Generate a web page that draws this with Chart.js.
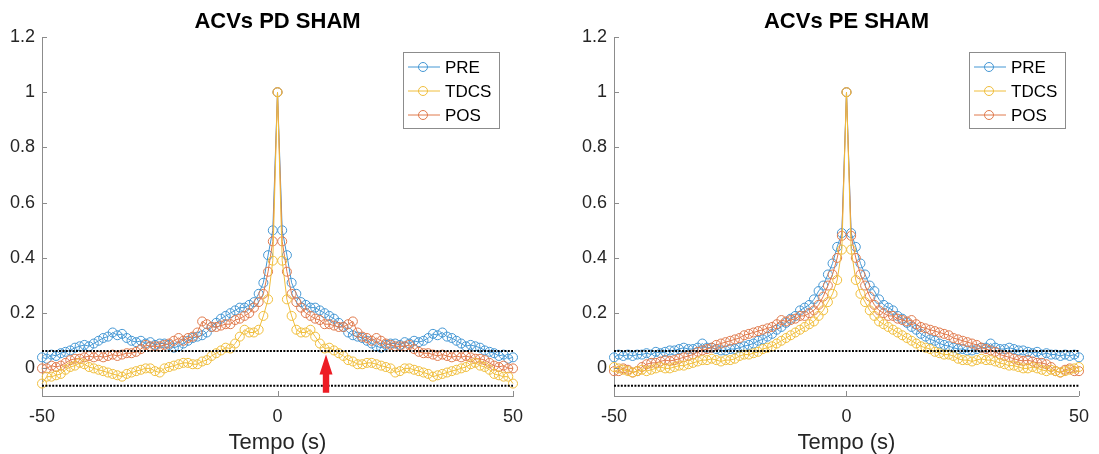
<!DOCTYPE html>
<html>
<head>
<meta charset="utf-8">
<script src="https://cdn.jsdelivr.net/npm/chart.js@4.4.1/dist/chart.umd.min.js"></script>
<style>
  html, body { margin: 0; padding: 0; background: #fff; }
  #wrap { position: relative; width: 1099px; height: 454px; }
  canvas { position: absolute; top: 0; }
</style>
</head>
<body>
<div id="wrap">
  <canvas id="pdChart" width="549" height="454" style="left:0px"></canvas>
  <canvas id="peChart" width="527" height="454" style="left:572px"></canvas>
</div>
<script>
// lag axis (s)
const lags = [
  -50,-49,-48,-47,-46,-45,-44,-43,-42,-41,-40,-39,-38,-37,-36,-35,-34,-33,-32,-31,
  -30,-29,-28,-27,-26,-25,-24,-23,-22,-21,-20,-19,-18,-17,-16,-15,-14,-13,-12,-11,
  -10,-9,-8,-7,-6,-5,-4,-3,-2,-1,0,1,2,3,4,5,6,7,8,9,10,
  11,12,13,14,15,16,17,18,19,20,21,22,23,24,25,26,27,28,29,30,
  31,32,33,34,35,36,37,38,39,40,41,42,43,44,45,46,47,48,49,50
];

// ACVs PD SHAM
const pdPre = [
  0.04,0.035,0.05,0.045,0.055,0.06,0.065,0.075,0.08,0.085,
  0.08,0.09,0.1,0.11,0.115,0.13,0.12,0.125,0.11,0.1,
  0.095,0.1,0.09,0.095,0.085,0.09,0.09,0.085,0.075,0.08,
  0.09,0.1,0.11,0.115,0.12,0.13,0.15,0.165,0.18,0.19,
  0.2,0.21,0.22,0.22,0.23,0.24,0.27,0.31,0.41,0.5,
  1,
  0.5,0.41,0.31,0.27,0.24,0.23,0.22,0.22,0.21,0.2,
  0.19,0.18,0.165,0.15,0.13,0.12,0.115,0.11,0.1,0.09,
  0.08,0.075,0.085,0.09,0.09,0.085,0.095,0.09,0.1,0.095,
  0.1,0.11,0.125,0.12,0.13,0.115,0.11,0.1,0.09,0.08,
  0.085,0.08,0.075,0.065,0.06,0.055,0.045,0.05,0.035,0.04
];
const pdTdcs = [
  -0.055,-0.03,-0.03,-0.025,-0.02,-0.005,0.005,0.01,0.02,0.015,
  0.005,0,-0.005,-0.01,-0.015,-0.02,-0.025,-0.03,-0.02,-0.015,
  -0.01,-0.005,0,0,-0.01,-0.015,0,0.005,0.01,0.015,
  0.02,0.02,0.015,0.015,0.025,0.03,0.045,0.055,0.065,0.075,
  0.072,0.09,0.115,0.14,0.13,0.13,0.14,0.19,0.25,0.39,
  1,
  0.39,0.25,0.19,0.14,0.13,0.13,0.14,0.115,0.09,0.072,
  0.075,0.065,0.055,0.045,0.03,0.025,0.015,0.015,0.02,0.02,
  0.015,0.01,0.005,0,-0.015,-0.01,0,0,-0.005,-0.01,
  -0.015,-0.02,-0.03,-0.025,-0.02,-0.015,-0.01,-0.005,0,0.005,
  0.015,0.02,0.01,0.005,-0.005,-0.02,-0.025,-0.03,-0.03,-0.055
];
const pdPos = [
  0,0,0.01,0.005,0.01,0.02,0.03,0.035,0.035,0.04,
  0.045,0.04,0.045,0.04,0.045,0.05,0.045,0.05,0.055,0.055,
  0.06,0.07,0.085,0.08,0.08,0.08,0.085,0.09,0.1,0.11,
  0.1,0.11,0.115,0.13,0.17,0.16,0.15,0.15,0.155,0.16,
  0.16,0.175,0.18,0.19,0.2,0.22,0.24,0.27,0.35,0.46,
  1,
  0.46,0.35,0.27,0.24,0.22,0.2,0.19,0.18,0.175,0.16,
  0.16,0.155,0.15,0.15,0.16,0.17,0.13,0.115,0.11,0.1,
  0.11,0.1,0.09,0.085,0.08,0.08,0.08,0.085,0.07,0.06,
  0.055,0.055,0.05,0.045,0.05,0.045,0.04,0.045,0.04,0.045,
  0.04,0.035,0.035,0.03,0.02,0.01,0.005,0.01,0,0
];

// ACVs PE SHAM
const pePre = [
  0.04,0.05,0.045,0.05,0.045,0.05,0.05,0.055,0.05,0.06,
  0.055,0.06,0.065,0.065,0.07,0.075,0.07,0.07,0.075,0.09,
  0.075,0.075,0.07,0.065,0.065,0.07,0.07,0.075,0.08,0.085,
  0.09,0.1,0.105,0.115,0.125,0.14,0.15,0.165,0.18,0.19,
  0.21,0.22,0.23,0.25,0.28,0.3,0.34,0.38,0.44,0.49,
  1,
  0.49,0.44,0.38,0.34,0.3,0.28,0.25,0.23,0.22,0.21,
  0.19,0.18,0.165,0.15,0.14,0.125,0.115,0.105,0.1,0.09,
  0.085,0.08,0.075,0.07,0.07,0.065,0.065,0.07,0.075,0.075,
  0.09,0.075,0.07,0.07,0.075,0.07,0.065,0.065,0.06,0.055,
  0.06,0.05,0.055,0.05,0.05,0.045,0.05,0.045,0.05,0.04
];
const peTdcs = [
  0.005,0,-0.005,-0.01,-0.015,-0.01,-0.005,-0.01,-0.005,0,
  0.005,0,0,0.005,0.01,0.01,0.015,0.02,0.025,0.03,
  0.03,0.035,0.03,0.025,0.03,0.03,0.035,0.045,0.05,0.05,
  0.055,0.06,0.07,0.075,0.08,0.09,0.1,0.11,0.12,0.13,
  0.14,0.15,0.16,0.17,0.19,0.21,0.24,0.27,0.32,0.43,
  1,
  0.43,0.32,0.27,0.24,0.21,0.19,0.17,0.16,0.15,0.14,
  0.13,0.12,0.11,0.1,0.09,0.08,0.075,0.07,0.06,0.055,
  0.05,0.05,0.045,0.035,0.03,0.03,0.025,0.03,0.035,0.03,
  0.03,0.025,0.02,0.015,0.01,0.01,0.005,0,0,0.005,
  0,-0.005,-0.01,-0.005,-0.01,-0.015,-0.01,-0.005,0,0.005
];
const pePos = [
  -0.01,-0.01,0,-0.005,-0.015,-0.01,0.005,0.015,0.02,0.02,
  0.025,0.03,0.027,0.03,0.035,0.04,0.045,0.05,0.06,0.065,
  0.07,0.075,0.085,0.09,0.095,0.1,0.105,0.11,0.12,0.125,
  0.13,0.135,0.14,0.145,0.15,0.16,0.175,0.17,0.175,0.18,
  0.19,0.19,0.2,0.21,0.23,0.26,0.3,0.34,0.4,0.48,
  1,
  0.48,0.4,0.34,0.3,0.26,0.23,0.21,0.2,0.19,0.19,
  0.18,0.175,0.17,0.175,0.16,0.15,0.145,0.14,0.135,0.13,
  0.125,0.12,0.11,0.105,0.1,0.095,0.09,0.085,0.075,0.07,
  0.065,0.06,0.05,0.045,0.04,0.035,0.03,0.027,0.03,0.025,
  0.02,0.02,0.015,0.005,-0.01,-0.015,-0.005,0,-0.01,-0.01
];

// confidence bounds and arrow marker
const confBound = 0.063;
const arrowMark = { x: 10.3, from: -0.088, to: 0.05 };

const xTicks = [-50, 0, 50];
const yTicks = [0, 0.2, 0.4, 0.6, 0.8, 1, 1.2];

const fam = '"Liberation Sans", Arial, sans-serif';
const tickColor = '#262626';
const axisGray = '#8c8c8c';
const colPre = '#4497d4';
const colTdcs = '#f0be3c';
const colPos = '#e07a4c';

const fmt = v => String(Math.round(v * 10) / 10);

// MATLAB-style inward tick marks
const innerTicks = {
  id: 'innerTicks',
  afterDraw(chart) {
    const { ctx, chartArea: a, scales: { x, y } } = chart;
    ctx.save();
    ctx.strokeStyle = axisGray;
    ctx.lineWidth = 1;
    ctx.beginPath();
    y.ticks.forEach(t => {
      const py = Math.round(y.getPixelForValue(t.value)) + 0.5;
      ctx.moveTo(a.left, py); ctx.lineTo(a.left + 5, py);
    });
    x.ticks.forEach(t => {
      const px = Math.round(x.getPixelForValue(t.value)) + 0.5;
      ctx.moveTo(px, a.bottom); ctx.lineTo(px, a.bottom - 5);
    });
    ctx.stroke();
    ctx.restore();
  }
};

// legend box inside the axes, top right
const boxLegend = {
  id: 'boxLegend',
  afterDraw(chart) {
    const { ctx, chartArea: a } = chart;
    const left = Math.round(a.right - 110), top = Math.round(a.top + 15);
    ctx.save();
    ctx.fillStyle = '#fff';
    ctx.fillRect(left, top, 96, 76);
    ctx.strokeStyle = axisGray;
    ctx.lineWidth = 1;
    ctx.strokeRect(left + 0.5, top + 0.5, 96, 76);
    chart.data.datasets.filter(d => d.inLegend).forEach((d, i) => {
      const y = top + 15 + i * 24;
      ctx.strokeStyle = d.borderColor;
      ctx.beginPath(); ctx.moveTo(left + 5, y); ctx.lineTo(left + 37, y); ctx.stroke();
      ctx.beginPath(); ctx.arc(left + 20, y, 4.5, 0, Math.PI * 2); ctx.stroke();
      ctx.fillStyle = '#000';
      ctx.font = '17px ' + fam;
      ctx.textBaseline = 'middle';
      ctx.fillText(d.label, left + 42, y + 1);
    });
    ctx.restore();
  }
};

// red arrow under the TDCS crossing
const redArrow = {
  id: 'redArrow',
  afterDatasetsDraw(chart) {
    const { ctx, scales: { x, y } } = chart;
    const px = x.getPixelForValue(arrowMark.x);
    const yTip = y.getPixelForValue(arrowMark.to);
    const yBase = y.getPixelForValue(arrowMark.from);
    const headLen = 20, headHalf = 6.5, shaftHalf = 3.2;
    ctx.save();
    ctx.fillStyle = '#ed1c24';
    ctx.beginPath();
    ctx.moveTo(px, yTip);
    ctx.lineTo(px + headHalf, yTip + headLen);
    ctx.lineTo(px + shaftHalf, yTip + headLen);
    ctx.lineTo(px + shaftHalf, yBase);
    ctx.lineTo(px - shaftHalf, yBase);
    ctx.lineTo(px - shaftHalf, yTip + headLen);
    ctx.lineTo(px - headHalf, yTip + headLen);
    ctx.closePath();
    ctx.fill();
    ctx.restore();
  }
};

function toPts(arr) {
  return arr.map((v, i) => ({ x: lags[i], y: v }));
}

function series(label, values, color, order) {
  return {
    label: label,
    inLegend: true,
    data: toPts(values),
    borderColor: color,
    backgroundColor: 'rgba(0,0,0,0)',
    borderWidth: 1,
    pointRadius: 4.5,
    pointBorderWidth: 1,
    pointBorderColor: color,
    pointBackgroundColor: 'rgba(0,0,0,0)',
    tension: 0,
    clip: false,
    order: order
  };
}

function bound(value) {
  return {
    data: [{ x: -50, y: value }, { x: 50, y: value }],
    borderColor: '#000',
    borderWidth: 2,
    borderDash: [2, 1.4],
    pointRadius: 0,
    clip: false,
    order: 0
  };
}

function makeChart(id, title, pre, tdcs, pos, padRight, extra) {
  const ctx = document.getElementById(id).getContext('2d');
  return new Chart(ctx, {
    type: 'line',
    data: {
      datasets: [
        series('PRE', pre, colPre, 3),
        series('TDCS', tdcs, colTdcs, 1),
        series('POS', pos, colPos, 2),
        bound(confBound),
        bound(-confBound)
      ]
    },
    options: {
      responsive: false,
      animation: false,
      devicePixelRatio: 1,
      layout: { padding: { left: 0, right: padRight, top: 0, bottom: 0 } },
      plugins: {
        legend: { display: false },
        tooltip: { enabled: false },
        title: {
          display: true,
          text: title,
          color: '#000',
          fullSize: false,
          font: { family: fam, size: 22, weight: 'bold', lineHeight: 1.2 },
          padding: { top: 9, bottom: 1.6 }
        }
      },
      scales: {
        x: {
          type: 'linear',
          min: -50,
          max: 50,
          afterBuildTicks: s => { s.ticks = xTicks.map(v => ({ value: v })); },
          afterFit: s => { s.height = 58; },
          grid: { display: false, drawTicks: false },
          border: { display: true, color: axisGray, width: 1 },
          ticks: { color: tickColor, font: { family: fam, size: 18 }, padding: 10, maxRotation: 0, callback: v => fmt(v) },
          title: { display: true, text: 'Tempo (s)', color: tickColor, font: { family: fam, size: 22, lineHeight: 1 }, padding: 0 }
        },
        y: {
          type: 'linear',
          min: -0.1,
          max: 1.2,
          afterBuildTicks: s => { s.ticks = yTicks.map(v => ({ value: v })); },
          afterFit: s => { s.width = 42; },
          grid: { display: false, drawTicks: false },
          border: { display: true, color: axisGray, width: 1 },
          ticks: { color: tickColor, font: { family: fam, size: 18 }, padding: 7, callback: v => fmt(v) }
        }
      }
    },
    plugins: [innerTicks, boxLegend].concat(extra)
  });
}

makeChart('pdChart', 'ACVs PD SHAM', pdPre, pdTdcs, pdPos, 36, [redArrow]);
makeChart('peChart', 'ACVs PE SHAM', pePre, peTdcs, pePos, 15, []);
</script>
</body>
</html>
